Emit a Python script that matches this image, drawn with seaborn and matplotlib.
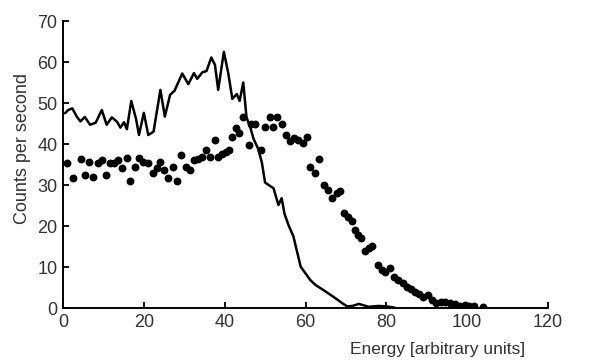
import matplotlib
matplotlib.use("Agg")
import matplotlib.pyplot as plt
import seaborn as sns
import pandas as pd

# Solid curve (line)
line_energy = [0.5, 1.3, 2.3, 3.4, 4.3, 5.4, 6.7, 8.1, 9.6, 10.8, 12.1, 13.4, 14.2, 15.1, 15.8,
               16.9, 18.1, 18.8, 20.0, 21.1, 22.4, 24.1, 25.2, 26.5, 27.6, 29.5, 31.0, 32.4, 33.2,
               34.5, 35.5, 36.7, 37.6, 38.4, 39.8, 40.9, 41.9, 43.0, 43.7, 44.6, 45.4, 46.3, 47.1,
               48.3, 49.2, 50.0, 51.2, 52.1, 53.3, 54.1, 54.8, 55.8, 57.0, 58.8, 61.2, 62.5, 64.4,
               66.8, 69.2, 70.3, 71.6, 73.2, 75.6, 78.0, 80.0, 82.0]
line_counts = [47.5, 48.3, 48.7, 46.7, 45.5, 46.6, 44.7, 45.2, 48.3, 44.7, 46.5, 45.4, 44.0, 45.3, 43.6,
               50.5, 46.0, 42.2, 47.6, 42.2, 43.0, 53.2, 46.7, 52.0, 53.0, 57.2, 54.6, 57.3, 55.9,
               57.5, 57.8, 61.1, 59.3, 53.2, 62.5, 57.2, 51.0, 52.2, 50.5, 55.0, 46.5, 44.2, 41.4,
               38.8, 35.5, 30.6, 29.8, 29.2, 25.1, 26.8, 23.0, 20.2, 17.5, 10.1, 6.8, 5.6, 4.4,
               2.8, 1.1, 0.4, 0.5, 1.0, 0.3, 0.5, 0.4, 0.1]

# Dots
dot_energy = [1.1, 2.4, 4.4, 5.4, 6.5, 7.5, 8.6, 9.6, 10.6, 11.6, 12.6, 13.7, 14.6, 15.8, 16.6,
              17.8, 18.9, 19.9, 21.1, 22.2, 23.2, 24.0, 24.9, 26.1, 27.1, 28.1, 29.2, 30.4, 31.4,
              32.5, 33.5, 34.5, 35.4, 36.4, 37.5, 38.4, 39.4, 40.3, 41.0, 41.7, 42.7, 43.6, 44.6,
              45.9, 46.5, 47.6, 48.9, 50.0, 51.1, 51.9, 53.0, 54.1, 55.2, 56.1, 57.2, 58.2, 59.3,
              60.4, 61.2, 62.4, 63.4, 64.6, 65.6, 66.6, 67.7, 68.6, 69.6, 70.5, 71.5, 72.3, 73.1,
              73.8, 74.8, 75.6, 76.4, 77.9, 78.9, 79.7, 80.8, 81.9, 83.0, 84.1, 85.1, 86.1, 87.1,
              88.0, 89.0, 90.2, 91.3, 92.3, 93.5, 94.6, 95.8, 97.0, 98.3, 99.5, 100.5, 101.6, 104.0]
dot_counts = [35.3, 31.6, 36.3, 32.4, 35.7, 32.0, 35.4, 36.1, 32.4, 35.3, 35.4, 36.1, 34.1, 36.5, 31.1,
              34.5, 36.5, 35.7, 35.3, 32.9, 34.1, 35.5, 33.7, 31.6, 34.4, 30.9, 37.4, 34.3, 33.7,
              36.1, 36.4, 36.9, 38.5, 36.8, 41.1, 36.9, 37.5, 38.0, 38.5, 41.7, 43.9, 42.7, 46.7,
              39.8, 44.8, 45.0, 38.6, 44.2, 46.5, 44.2, 46.7, 45.0, 42.3, 40.7, 41.4, 40.9, 40.3,
              41.6, 34.4, 32.9, 36.3, 29.9, 28.8, 26.8, 28.0, 28.6, 23.1, 22.3, 21.3, 19.0, 17.8,
              17.0, 14.0, 14.6, 15.1, 10.5, 9.3, 8.9, 9.7, 7.6, 6.8, 6.0, 5.2, 4.6, 4.0,
              3.4, 2.8, 3.2, 2.0, 1.1, 1.5, 1.5, 1.3, 1.0, 0.5, 0.7, 0.6, 0.4, 0.3]

x_ticks = [0, 20, 40, 60, 80, 100, 120]
y_ticks = [0, 10, 20, 30, 40, 50, 60, 70]

sns.set_style("ticks")
plt.rcParams["font.family"] = ["Liberation Sans", "DejaVu Sans"]

text_col = "#333333"
fig = plt.figure(figsize=(5.92, 3.63), dpi=100)
ax = fig.add_axes([0.1064, 0.1515, 0.8193, 0.7906])

line_df = pd.DataFrame({"energy": line_energy, "counts": line_counts})
dot_df = pd.DataFrame({"energy": dot_energy, "counts": dot_counts})

sns.lineplot(data=line_df, x="energy", y="counts", ax=ax, color="black", linewidth=1.8,
             sort=False, estimator=None)
sns.scatterplot(data=dot_df, x="energy", y="counts", ax=ax, color="black", s=32,
                linewidth=0, zorder=3)

ax.set_xlim(0, 120)
ax.set_ylim(0, 70)
ax.set_xticks(x_ticks)
ax.set_yticks(y_ticks)
ax.tick_params(direction="in", length=4.5, width=1.3, colors="black",
               labelcolor=text_col, labelsize=13, pad=4)
for side in ["top", "right"]:
    ax.spines[side].set_visible(False)
for side in ["left", "bottom"]:
    ax.spines[side].set_linewidth(1.4)
    ax.spines[side].set_color("black")

ax.set_xlabel("Energy [arbitrary units]", fontsize=12.5, color=text_col)
ax.set_ylabel("Counts per second", fontsize=13, color=text_col)
ax.xaxis.set_label_coords(0.772, -0.12)
ax.yaxis.set_label_coords(-0.066, 0.557)

fig.savefig("out.png", dpi=100)
